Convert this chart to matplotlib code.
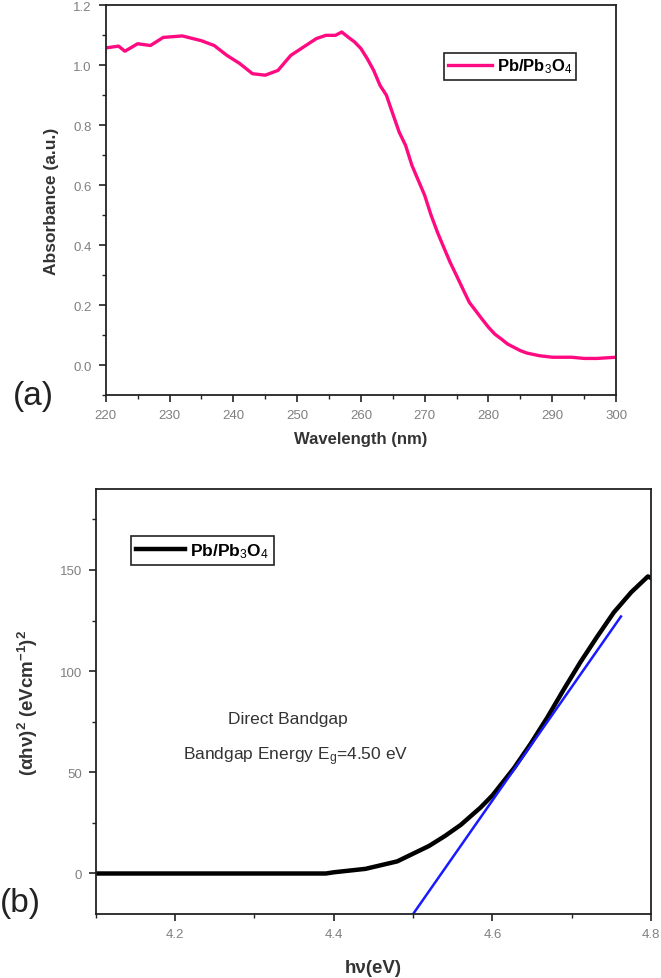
import numpy as np
import matplotlib
matplotlib.use("Agg")
import matplotlib.pyplot as plt
from matplotlib.ticker import MultipleLocator

plt.rcParams['font.family'] = ['Liberation Sans', 'DejaVu Sans']
plt.rcParams['mathtext.fontset'] = 'custom'
plt.rcParams['mathtext.rm'] = 'Liberation Sans'
plt.rcParams['mathtext.it'] = 'Liberation Sans:italic'
plt.rcParams['mathtext.bf'] = 'Liberation Sans:bold'

# (a) absorbance spectrum
wavelength = [220, 222, 223, 225, 227, 229, 232, 235, 237, 239, 241, 243, 245, 247, 249,
              251, 253, 254.5, 256, 257, 258, 259, 260, 261, 262, 263, 264, 265, 266, 267,
              268, 269, 270, 271, 272, 273, 274, 275, 276, 277, 278, 279, 280, 281, 282,
              283, 284, 285, 286, 288, 290, 293, 295, 297, 300]
absorbance = [1.058, 1.064, 1.047, 1.072, 1.066, 1.093, 1.098, 1.082, 1.066, 1.033, 1.006,
              0.972, 0.967, 0.983, 1.033, 1.061, 1.089, 1.100, 1.100, 1.111, 1.094, 1.078,
              1.056, 1.022, 0.983, 0.933, 0.900, 0.838, 0.777, 0.733, 0.666, 0.616, 0.566,
              0.500, 0.443, 0.392, 0.342, 0.298, 0.253, 0.209, 0.181, 0.153, 0.126, 0.103,
              0.087, 0.070, 0.059, 0.048, 0.040, 0.031, 0.026, 0.026, 0.022, 0.022, 0.026]

# (b) Tauc plot
energy = [4.10, 4.20, 4.30, 4.39, 4.40, 4.44, 4.48, 4.52, 4.54, 4.56, 4.585, 4.60, 4.627,
          4.648, 4.669, 4.69, 4.711, 4.732, 4.753, 4.775, 4.796, 4.80]
tauc = [0.0, 0.0, 0.0, 0.0, 0.6, 2.3, 6.0, 13.6, 18.5, 24.0, 32.6, 38.6, 52.0,
        64.0, 77.0, 91.0, 104.5, 117.0, 129.0, 139.0, 146.8, 146.0]
fit_x = [4.50, 4.762]
fit_y = [-20, 127]

pink = '#ff0a80'
tick_grey = '#808080'
text_dark = '#333333'

fig = plt.figure(figsize=(6.61, 9.79), dpi=100)

def style_axes(ax):
    for s in ax.spines.values():
        s.set_linewidth(1.3)
        s.set_color('#222222')
    ax.tick_params(which='both', direction='out', colors='#222222', labelcolor=tick_grey,
                   labelsize=9.5, top=False, right=False)
    ax.tick_params(which='major', length=5, width=1.2, pad=5)
    ax.tick_params(which='minor', length=3, width=1.0)

# ---- panel (a)
ax1 = fig.add_axes([0.160, 0.5955, 0.772, 0.398])
ax1.plot(wavelength, absorbance, color=pink, lw=2.4, label='Pb/Pb$_3$O$_4$')
ax1.set_xlim(220, 300)
ax1.set_ylim(-0.1, 1.2)
ax1.xaxis.set_major_locator(MultipleLocator(10))
ax1.xaxis.set_minor_locator(MultipleLocator(5))
ax1.yaxis.set_major_locator(MultipleLocator(0.2))
ax1.yaxis.set_minor_locator(MultipleLocator(0.1))
ax1.yaxis.set_major_formatter(plt.FormatStrFormatter('%.1f'))
style_axes(ax1)
ax1.set_xlabel('Wavelength (nm)', fontsize=12, fontweight='bold', color=text_dark, labelpad=7)
ax1.set_ylabel('Absorbance (a.u.)', fontsize=12.5, fontweight='bold', color=text_dark, labelpad=10)
leg1 = ax1.legend(loc='upper left', bbox_to_anchor=(0.663, 0.879), borderaxespad=0,
                  fancybox=False, edgecolor='#222222', framealpha=1, handlelength=2.6,
                  handletextpad=0.3, borderpad=0.25, prop={'weight': 'bold', 'size': 12})
leg1.get_frame().set_linewidth(1.2)
fig.text(0.02, 0.5955, '(a)', fontsize=24, color='#222222', va='center')

# ---- panel (b)
ax2 = fig.add_axes([0.145, 0.0654, 0.840, 0.4341])
ax2.plot(energy, tauc, color='black', lw=3.2, label='Pb/Pb$_3$O$_4$')
ax2.plot(fit_x, fit_y, color='#1a1aff', lw=1.8)
ax2.set_xlim(4.1, 4.8)
ax2.set_ylim(-20, 190)
ax2.xaxis.set_major_locator(MultipleLocator(0.2))
ax2.xaxis.set_minor_locator(MultipleLocator(0.1))
ax2.yaxis.set_major_locator(MultipleLocator(50))
ax2.yaxis.set_minor_locator(MultipleLocator(25))
style_axes(ax2)
ax2.set_xlabel('hν(eV)', fontsize=13.5, fontweight='bold', color=text_dark, labelpad=14)
ax2.set_ylabel('(αhν)$^\\mathbf{2}$ (eVcm$^\\mathbf{-1}$)$^\\mathbf{2}$', fontsize=13.5,
               fontweight='bold', color=text_dark, labelpad=14)
leg2 = ax2.legend(handles=ax2.lines[:1], loc='upper left', bbox_to_anchor=(0.063, 0.889),
                  borderaxespad=0, fancybox=False, edgecolor='#222222', framealpha=1,
                  handlelength=2.8, handletextpad=0.3, borderpad=0.3,
                  prop={'weight': 'bold', 'size': 12.5})
leg2.get_frame().set_linewidth(1.2)
ax2.text(0.346, 0.459, 'Direct Bandgap', transform=ax2.transAxes, ha='center', va='center',
         fontsize=12.5, color=text_dark)
ax2.text(0.360, 0.372, 'Bandgap Energy E$_\\mathrm{g}$=4.50 eV', transform=ax2.transAxes,
         ha='center', va='center', fontsize=12.5, color=text_dark)
fig.text(0.0, 0.0776, '(b)', fontsize=24, color='#222222', va='center')

fig.savefig('out.png', dpi=100)
